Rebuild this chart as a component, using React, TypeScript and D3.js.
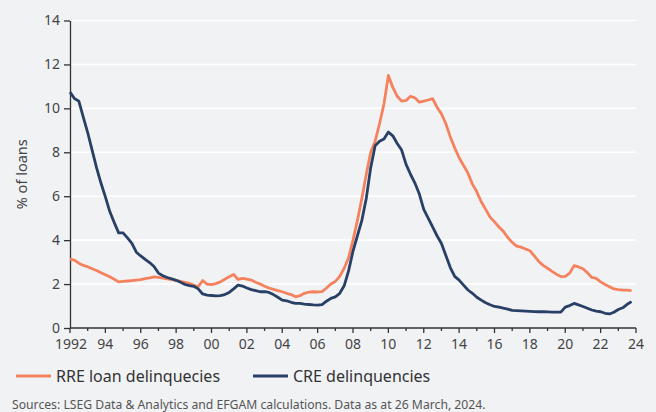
import React, { useEffect, useRef } from 'react';
import * as d3 from 'd3';

// quarterly values, 1992 Q1 .. 2023 Q4
const startYear = 1992;
const rreValues = [
  3.14, 3.09, 2.95, 2.85, 2.79, 2.7, 2.62, 2.52, 2.42, 2.33, 2.22, 2.1,
  2.12, 2.14, 2.16, 2.18, 2.2, 2.25, 2.28, 2.33, 2.3, 2.27, 2.24, 2.2,
  2.17, 2.12, 2.08, 2.03, 1.95, 1.88, 2.16, 2.0, 1.98, 2.02, 2.1, 2.22,
  2.33, 2.44, 2.21, 2.26, 2.22, 2.18, 2.08, 2.0, 1.9, 1.82, 1.76, 1.7,
  1.65, 1.58, 1.52, 1.42, 1.47, 1.58, 1.63, 1.65, 1.64, 1.66, 1.82, 2.0,
  2.12, 2.35, 2.72, 3.2, 4.0, 4.9, 5.9, 7.0, 8.0, 8.5, 9.3, 10.2,
  11.5, 10.95, 10.55, 10.33, 10.36, 10.55, 10.48, 10.28, 10.33, 10.38, 10.44, 10.05,
  9.75, 9.3, 8.7, 8.2, 7.75, 7.4, 7.05, 6.55, 6.2, 5.75, 5.4, 5.05,
  4.83, 4.6, 4.4, 4.12, 3.9, 3.73, 3.68, 3.6, 3.52, 3.28, 3.03, 2.85,
  2.72, 2.58, 2.45, 2.34, 2.35, 2.5, 2.84, 2.78, 2.7, 2.52, 2.3, 2.26,
  2.1, 1.98, 1.88, 1.78, 1.75, 1.73, 1.72, 1.7,
];
const creValues = [
  10.74, 10.45, 10.33, 9.6, 8.9, 8.1, 7.3, 6.6, 5.97, 5.3, 4.8, 4.33,
  4.33, 4.1, 3.85, 3.45, 3.28, 3.12, 2.98, 2.8, 2.5, 2.38, 2.3, 2.24,
  2.17, 2.08, 1.98, 1.93, 1.9, 1.78, 1.55, 1.5, 1.48, 1.46, 1.47, 1.52,
  1.62, 1.78, 1.95, 1.91, 1.82, 1.75, 1.7, 1.65, 1.66, 1.62, 1.52, 1.4,
  1.27, 1.24, 1.17, 1.12, 1.12, 1.09, 1.07, 1.05, 1.04, 1.06, 1.22, 1.35,
  1.42, 1.58, 1.92, 2.6, 3.5, 4.2, 4.9, 5.9, 7.3, 8.3, 8.5, 8.6,
  8.92, 8.75, 8.4, 8.1, 7.45, 7.0, 6.6, 6.1, 5.4, 5.0, 4.6, 4.2,
  3.85, 3.3, 2.75, 2.35, 2.18, 1.95, 1.73, 1.58, 1.4, 1.27, 1.15, 1.06,
  0.98, 0.95, 0.9, 0.86, 0.8, 0.79, 0.78, 0.77, 0.76, 0.75, 0.74, 0.74,
  0.73, 0.72, 0.72, 0.72, 0.95, 1.02, 1.12, 1.05, 0.98, 0.9, 0.82, 0.77,
  0.74, 0.67, 0.64, 0.72, 0.84, 0.92, 1.08, 1.2,
];
const yTicks = [0, 2, 4, 6, 8, 10, 12, 14];
const seriesNames = ['RRE loan delinquecies', 'CRE delinquencies'];
const sourceNote = 'Sources: LSEG Data & Analytics and EFGAM calculations. Data as at 26 March, 2024.';

const W = 656;
const H = 412;
const FONT = '"Noto Sans", sans-serif';
const ORANGE = '#f5825f';
const NAVY = '#283f66';

const App = () => {
  const ref = useRef(null);

  useEffect(() => {
    const svg = d3.select(ref.current);
    svg.selectAll('*').remove();

    svg.append('rect').attr('width', W).attr('height', H).attr('fill', '#f1f2f4');

    const x = d3.scaleLinear().domain([1992, 2024]).range([70, 636]);
    const y = d3.scaleLinear().domain([0, 14]).range([328, 20.5]);

    // gridlines
    svg
      .append('g')
      .selectAll('line')
      .data(yTicks.filter(d => d > 0))
      .enter()
      .append('line')
      .attr('x1', x(1992))
      .attr('x2', x(2024))
      .attr('y1', d => y(d))
      .attr('y2', d => y(d))
      .attr('stroke', '#ffffff')
      .attr('stroke-width', 1.6);

    // y axis
    const yAxis = svg
      .append('g')
      .attr('transform', `translate(${x(1992)},0)`)
      .call(d3.axisLeft(y).tickValues(yTicks).tickSize(6).tickPadding(4).tickSizeOuter(0));
    yAxis.select('.domain').attr('stroke', '#333').attr('stroke-width', 1.3);
    yAxis.selectAll('line').attr('stroke', '#333').attr('stroke-width', 1.3);
    yAxis
      .selectAll('text')
      .attr('font-family', FONT)
      .attr('font-size', 14)
      .attr('fill', '#444');

    // x axis: minor ticks every year, labels on even years
    const years = d3.range(1992, 2025);
    const xAxis = svg.append('g').attr('transform', `translate(0,${y(0)})`);
    xAxis
      .append('line')
      .attr('x1', x(1992))
      .attr('x2', x(2024))
      .attr('stroke', '#333')
      .attr('stroke-width', 1.3);
    xAxis
      .selectAll('line.tick')
      .data(years)
      .enter()
      .append('line')
      .attr('class', 'tick')
      .attr('x1', d => x(d))
      .attr('x2', d => x(d))
      .attr('y1', 0)
      .attr('y2', d => (d % 2 === 0 ? 5 : 3))
      .attr('stroke', '#333')
      .attr('stroke-width', 1.3);
    xAxis
      .selectAll('text')
      .data(years.filter(d => d % 2 === 0))
      .enter()
      .append('text')
      .attr('x', d => x(d) + (d === 1992 ? 1 : 0))
      .attr('y', 21)
      .attr('text-anchor', 'middle')
      .attr('font-family', FONT)
      .attr('font-size', 14)
      .attr('fill', '#444')
      .text(d => (d === 1992 ? '1992' : String(d % 100).padStart(2, '0')));

    // y axis title
    svg
      .append('text')
      .attr('transform', `translate(27,${y(7)}) rotate(-90)`)
      .attr('text-anchor', 'middle')
      .attr('font-family', FONT)
      .attr('font-size', 14.5)
      .attr('fill', '#444')
      .text('% of loans');

    // lines
    const line = d3
      .line()
      .x((d, i) => x(startYear + i / 4))
      .y(d => y(d))
      .curve(d3.curveLinear);

    svg
      .append('path')
      .datum(rreValues)
      .attr('d', line)
      .attr('fill', 'none')
      .attr('stroke', ORANGE)
      .attr('stroke-width', 2.8)
      .attr('stroke-linejoin', 'round');

    svg
      .append('path')
      .datum(creValues)
      .attr('d', line)
      .attr('fill', 'none')
      .attr('stroke', NAVY)
      .attr('stroke-width', 2.8)
      .attr('stroke-linejoin', 'round');

    // legend
    const legendItems = [
      { name: seriesNames[0], color: ORANGE, x0: 16 },
      { name: seriesNames[1], color: NAVY, x0: 253 },
    ];
    const legend = svg
      .selectAll('g.legend')
      .data(legendItems)
      .enter()
      .append('g')
      .attr('class', 'legend')
      .attr('transform', d => `translate(${d.x0},376)`);
    legend
      .append('line')
      .attr('x1', 0)
      .attr('x2', 35)
      .attr('stroke', d => d.color)
      .attr('stroke-width', 3);
    legend
      .append('text')
      .attr('x', 40)
      .attr('y', 6)
      .attr('font-family', FONT)
      .attr('font-size', 16)
      .attr('fill', '#333')
      .text(d => d.name);

    // source
    svg
      .append('text')
      .attr('x', 12)
      .attr('y', 409)
      .attr('font-family', FONT)
      .attr('font-size', 12.2)
      .attr('fill', '#555')
      .text(sourceNote);
  }, []);

  return <svg ref={ref} width={W} height={H} style={{ position: 'absolute', left: 0, top: 0 }} />;
};

export default App;
